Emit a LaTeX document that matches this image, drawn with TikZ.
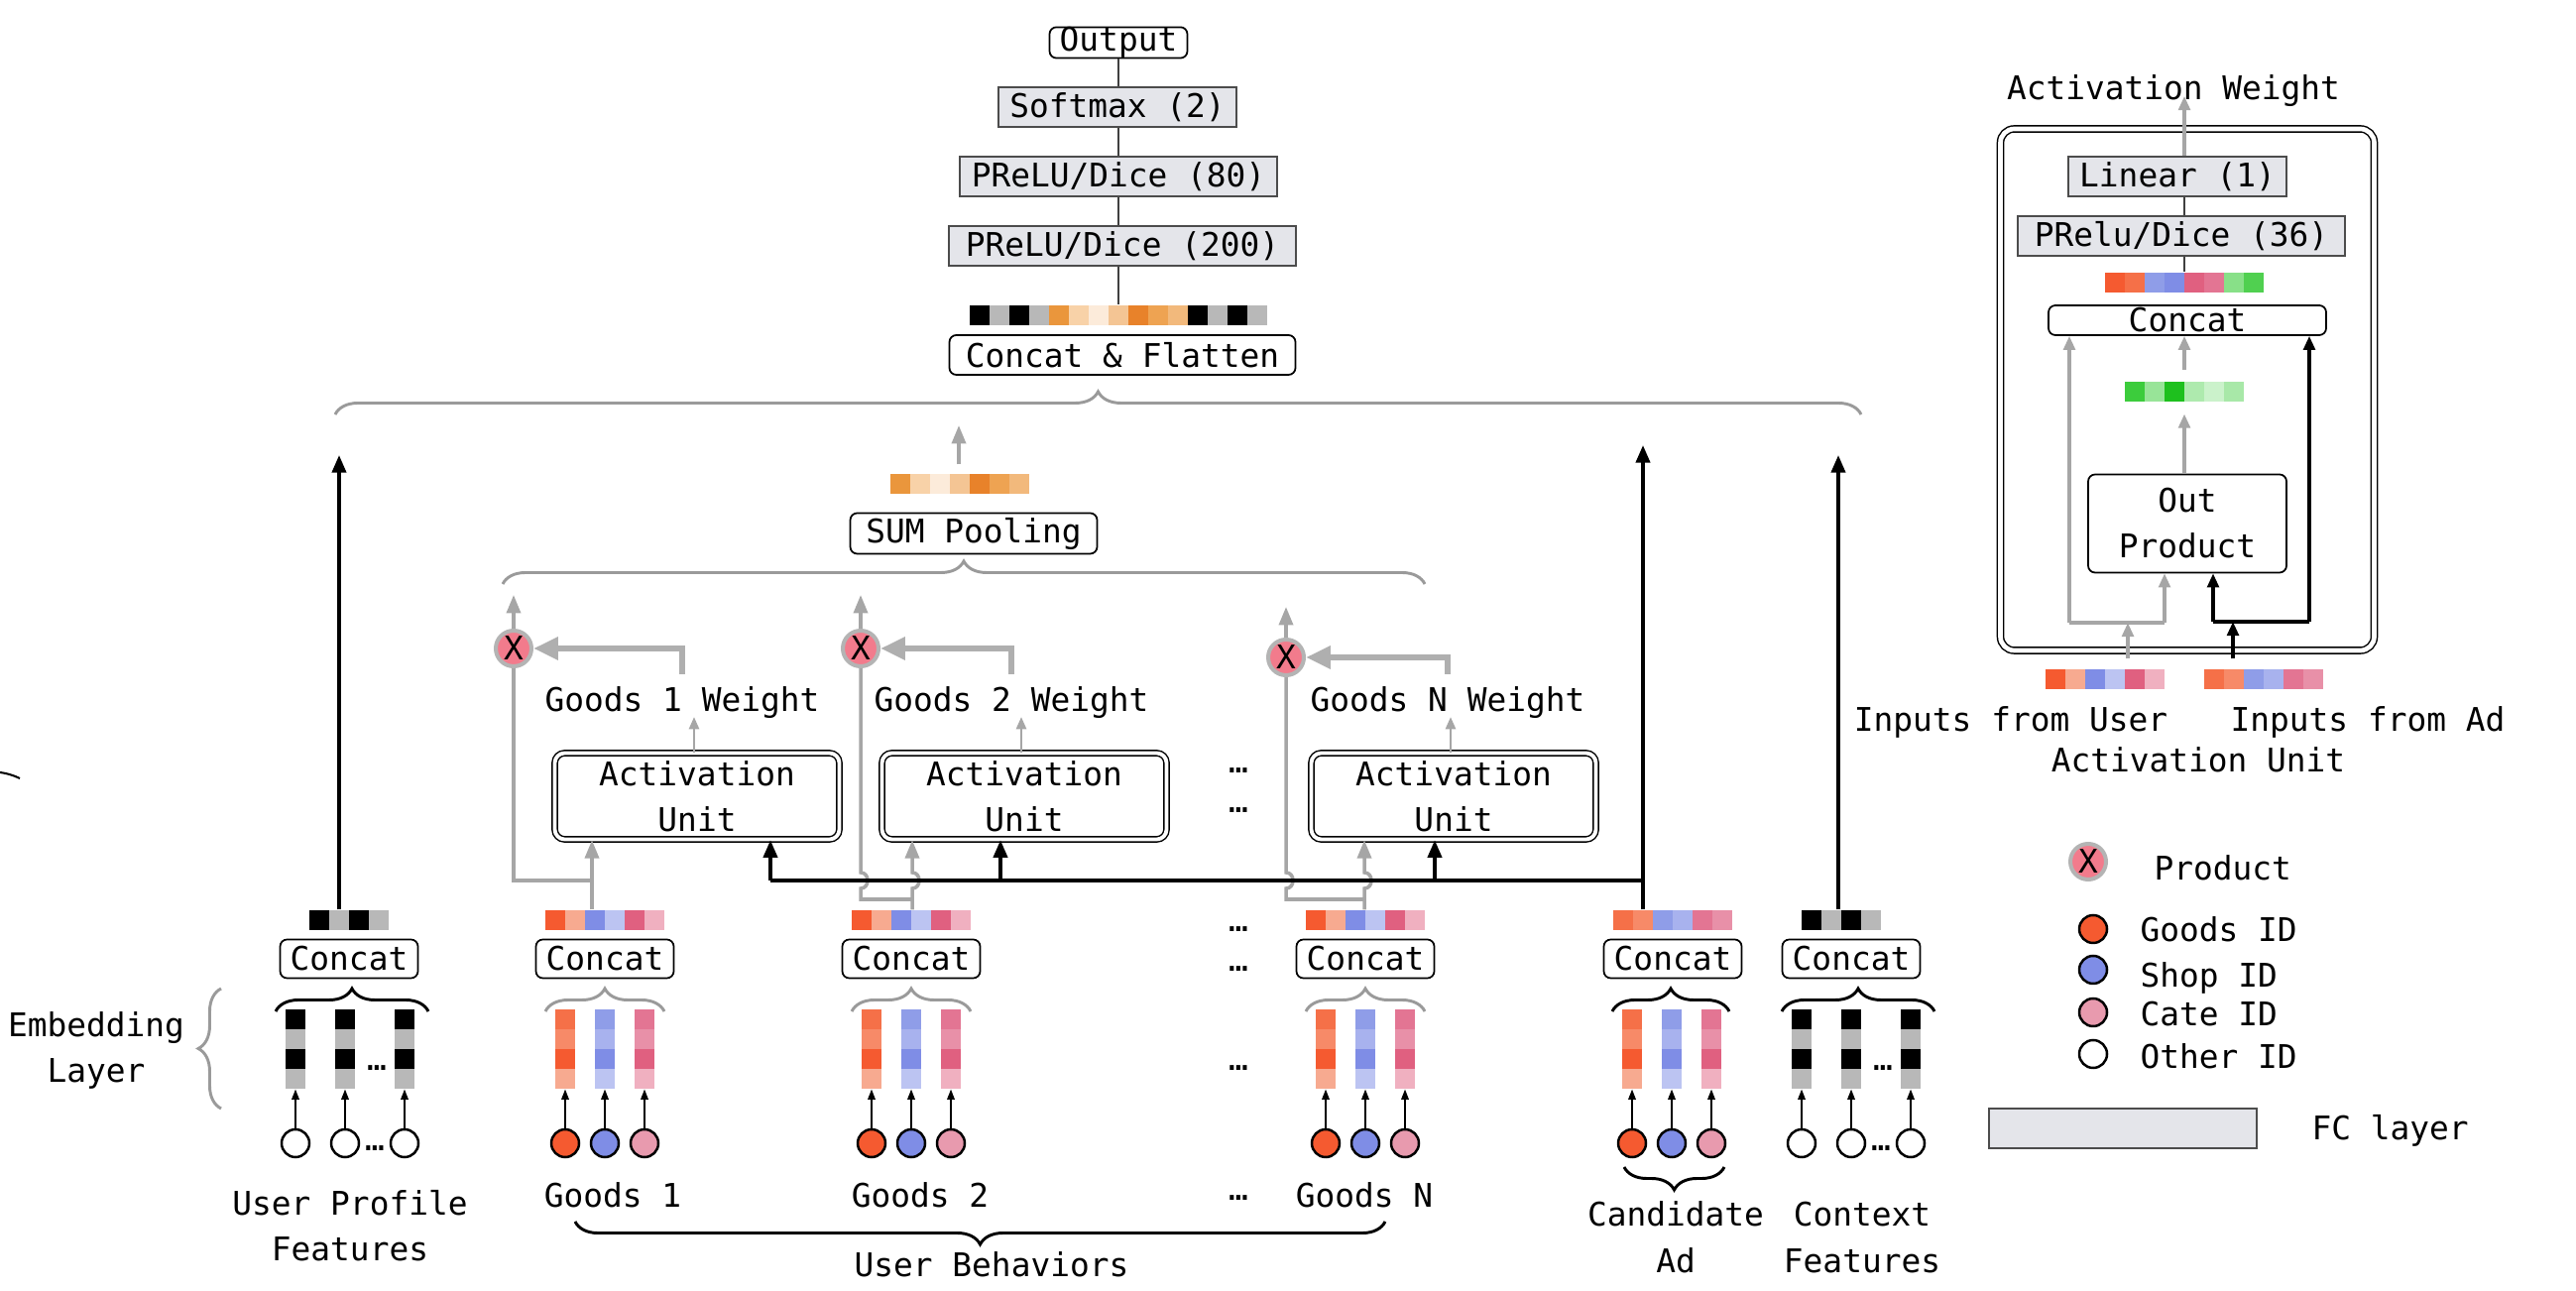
\documentclass[tikz,border=0pt]{standalone}
\usepackage{fontspec}
\setmainfont{DejaVu Sans Mono}
\usetikzlibrary{arrows.meta,decorations.pathreplacing,positioning}

\definecolor{fcgray}{HTML}{E4E5EA}
\definecolor{cellgray}{HTML}{B8B8B8}
\definecolor{arrgray}{HTML}{A6A6A6}
\definecolor{bracegray}{HTML}{9A9A9A}
\definecolor{prodpink}{HTML}{F27B8C}
\definecolor{prodrim}{HTML}{B4B4B4}
\definecolor{goodsA}{HTML}{F55A30}
\definecolor{goodsB}{HTML}{F7AA90}
\definecolor{goodsC}{HTML}{F57048}
\definecolor{goodsD}{HTML}{F78A68}
\definecolor{shopA}{HTML}{7F8DE6}
\definecolor{shopB}{HTML}{BCC4F2}
\definecolor{shopC}{HTML}{8F9DE8}
\definecolor{shopD}{HTML}{A8B2EE}
\definecolor{cateA}{HTML}{E06080}
\definecolor{cateB}{HTML}{F0B0C0}
\definecolor{cateC}{HTML}{E37593}
\definecolor{cateD}{HTML}{E890A8}
\definecolor{catec}{HTML}{E89AAE}
\definecolor{or1}{HTML}{EA963C}
\definecolor{or2}{HTML}{F8D2A8}
\definecolor{or3}{HTML}{FCEBDA}
\definecolor{or4}{HTML}{F4C594}
\definecolor{or5}{HTML}{E8822A}
\definecolor{or6}{HTML}{EEA352}
\definecolor{or7}{HTML}{F2B97C}
\definecolor{gr1}{HTML}{3CCC3C}
\definecolor{gr2}{HTML}{98E498}
\definecolor{gr3}{HTML}{1EC01E}
\definecolor{gr4}{HTML}{AEEAAE}
\definecolor{gr5}{HTML}{CBF2CB}
\definecolor{gr6}{HTML}{A8E8A8}
\definecolor{gr7}{HTML}{88E088}
\definecolor{gr8}{HTML}{50D050}

\newdimen\unitpx
\unitpx=0.012cm

% a row of 20px cells: name, centre x, centre y, cells, colours
\newcommand{\vecrow}[5]{%
  \node[inner sep=0pt,minimum width=#4*0.24cm,minimum height=0.24cm] (#1) at (#2,#3) {};
  \foreach \cellc [count=\cellk from 0] in {#5}
    \fill[\cellc] ({#2-#4*10+20*\cellk},{#3-10}) rectangle ++(20,20);
}
% a column of four cells: name, centre x, top y, colours
\newcommand{\veccol}[4]{%
  \node[inner sep=0pt,minimum width=0.24cm,minimum height=0.96cm] (#1) at (#2,{#3+40}) {};
  \foreach \cellc [count=\cellk from 0] in {#4}
    \fill[\cellc] ({#2-10},{#3+20*\cellk}) rectangle ++(20,20);
}

\begin{document}
\begin{tikzpicture}
[x=0.012cm,y=-0.012cm,font=\fontsize{11.2}{15.7}\selectfont,
 fclayer/.style={draw=black!70,fill=fcgray,line width=0.6pt,inner sep=0pt,minimum height=40\unitpx},
 rbox/.style={draw=black,fill=white,rounded corners=7\unitpx,line width=0.6pt,inner sep=0pt},
 aubox/.style={draw=black,double,double distance=1.3pt,line width=0.5pt,rounded corners=10\unitpx,inner sep=0pt,minimum width=287\unitpx,minimum height=87\unitpx,align=center},
 prod/.style={circle,fill=prodpink,draw=prodrim,line width=1.37pt,inner sep=0pt,minimum size=36\unitpx},
 idc/.style={circle,draw=black,line width=0.85pt,inner sep=0pt,minimum size=28\unitpx},
 lbl/.style={inner sep=0pt,anchor=base,align=center},
 conn/.style={line width=0.5pt,black!75},
 blkline/.style={line width=1.2pt},
 blk/.style={line width=1.2pt,-{Triangle[length=6pt,width=4.8pt]}},
 gry/.style={draw=arrgray,line width=1.2pt},
 gryarr/.style={gry,-{Triangle[length=6.3pt,width=4.8pt]}},
 gryfine/.style={draw=arrgray,line width=0.9pt,-{Triangle[length=4.2pt,width=3.4pt]}},
 wgt/.style={draw=arrgray!90,line width=2.2pt,-{Triangle[length=8.5pt,width=7.5pt]}},
 embarrow/.style={line width=0.45pt,-{Triangle[length=3.5pt,width=2.6pt]}},
 rgry/.style={gry,line width=1.1pt,-{Triangle[length=4.8pt,width=4pt]}},
 rblk/.style={line width=1.1pt,-{Triangle[length=4.8pt,width=4pt]}},
 brc/.style={decorate,decoration={brace,amplitude=0.276cm},line width=1pt}]
\useasboundingbox (0,0) rectangle (2598,1302);

% output stack
\node[rbox,minimum width=139\unitpx,minimum height=30\unitpx] (out) at (1128,43) {Output};
\node[fclayer,minimum width=240\unitpx] (smax) at (1127,108) {Softmax (2)};
\node[fclayer,minimum width=320\unitpx] (fc80) at (1128,178) {PReLU/Dice (80)};
\node[fclayer,minimum width=350\unitpx] (fc200) at (1132,248) {PReLU/Dice (200)};
\vecrow{fbar}{1128}{318}{15}{black,cellgray,black,cellgray,or1,or2,or3,or4,or5,or6,or7,black,cellgray,black,cellgray}
\node[rbox,minimum width=349\unitpx,minimum height=40\unitpx] (flat) at (1132,358) {Concat \& Flatten};
\foreach \a/\b in {out/smax,smax/fc80,fc80/fc200,fc200/fbar}
  \draw[conn] (out.south |- \a.south) -- (out.south |- \b.north);
\draw[brc,draw=bracegray] (338,418) -- (1877,418);

% sum pooling
\vecrow{obar}{968}{488}{7}{or1,or2,or3,or4,or5,or6,or7}
\node[rbox,minimum width=249\unitpx,minimum height=41\unitpx] (sump) at (982,538) {SUM Pooling};
\coordinate (stip) at (967,429);
\draw[gryarr] ([yshift=9\unitpx]obar.north -| stip) -- (stip);
\draw[brc,draw=bracegray] (507,589) -- (1437,589);

% user behaviours
\foreach \g/\gx/\lx/\lbl in {1/610/618/1, 2/919/928/2, n/1377/1376/N} {
  \vecrow{bar\g}{\gx}{928}{6}{goodsA,goodsB,shopA,shopB,cateA,cateB}
  \node[rbox,minimum width=139\unitpx,minimum height=39\unitpx] (cat\g) at (\gx,967) {Concat};
  \draw[brc,draw=bracegray] ({\gx-60},1020) -- ({\gx+60},1020);
  \foreach \k/\dx/\ca/\cb/\cc/\cd/\cf in {a/-40/goodsC/goodsD/goodsA/goodsB/goodsA,
      b/0/shopC/shopD/shopA/shopB/shopA, c/40/cateC/cateD/cateA/cateB/catec} {
    \veccol{col\g\k}{\gx+\dx}{1018}{\ca,\cb,\cc,\cd}
    \node[idc,fill=\cf] (id\g\k) at (\gx+\dx,1153) {};
    \draw[embarrow] (id\g\k) -- (col\g\k);
  }
  \node[lbl] (lg\g) at (\lx,1217) {Goods \lbl};
}
\foreach \dy [count=\n] in {777,817,937,977,1077,1208}
  \node[inner sep=0pt] (dots\n) at (1249,\dy) {…};
\draw[brc] (1397,1232) -- (580,1232);
\node[lbl] (lub) at (1000,1287) {User Behaviors};

% user profile and context features
\foreach \g/\cx/\bx/\kx in {u/348/352/352, c/1867/1857/1867} {
  \vecrow{bar\g}{\bx}{928}{4}{black,cellgray,black,cellgray}
  \node[rbox,minimum width=139\unitpx,minimum height=39\unitpx] (cat\g) at (\kx,967) {Concat};
  \draw[brc] ({\cx-70},1020) -- ({\cx+84},1020);
  \foreach \k/\dx in {a/-50,b/0,c/60} {
    \veccol{col\g\k}{\cx+\dx}{1018}{black,cellgray,black,cellgray}
    \node[idc,fill=white] (id\g\k) at (\cx+\dx,1153) {};
    \draw[embarrow] (id\g\k) -- (col\g\k);
  }
  \node[inner sep=0pt] (dc\g) at (\cx+32,1077) {…};
  \node[inner sep=0pt] (di\g) at (\cx+30,1158) {…};
}
\node[lbl] (lupf) at (353,1272) {User Profile\\Features};
\node[lbl] (lctx) at (1878,1283) {Context\\Features};
\node[lbl] (lemb) at (97,1092) {Embedding\\Layer};
\draw[brc,draw=bracegray] (223,1118) -- (223,997);
\draw[line width=0.7pt] (0,779) to[bend left=8] (20,785);

% candidate ad
\vecrow{bara}{1687}{928}{6}{goodsC,goodsD,shopC,shopD,cateC,cateD}
\node[rbox,minimum width=139\unitpx,minimum height=39\unitpx] (cata) at (1687,967) {Concat};
\draw[brc] (1626,1020) -- (1744,1020);
\foreach \k/\dx/\ca/\cb/\cc/\cd/\cf in {a/-40/goodsC/goodsD/goodsA/goodsB/goodsA,
    b/0/shopC/shopD/shopA/shopB/shopA, c/40/cateC/cateD/cateA/cateB/catec} {
  \veccol{cola\k}{1686+\dx}{1018}{\ca,\cb,\cc,\cd}
  \node[idc,fill=\cf] (ida\k) at (1686+\dx,1153) {};
  \draw[embarrow] (ida\k) -- (cola\k);
}
\draw[brc] (1739,1177) -- (1638,1177);
\node[lbl] (lcad) at (1690,1283) {Candidate\\Ad};

% activation units
\foreach \i/\bx/\tx/\xx/\xy/\xt/\ax/\lbl in {1/703/688/518/654/600/777/1,
    2/1033/1020/868/654/600/1009/2, n/1466/1460/1297/663/612/1447/N} {
  \node[aubox] (au\i) at (\bx,803) {Activation\\Unit};
  \node[prod] (x\i) at (\xx,\xy) {X};
  \node[lbl] (wt\i) at (\tx,718) {Goods \lbl\ Weight};
  \coordinate (wtip\i) at ({\bx-3},723);
  \draw[gryfine] (au\i.north -| wtip\i) -- (wtip\i);
  \coordinate (wbot\i) at (\tx,680);
  \draw[wgt] (wbot\i) |- (x\i.east);
  \coordinate (xtip\i) at (\xx,\xt);
  \draw[gryarr] (x\i.north) -- (xtip\i);
  \coordinate (ak\i) at (\ax,888);
  \draw[blk] (ak\i) -- (ak\i |- au\i.south);
}
\coordinate (j1) at (597,888);
\draw[gry] (bar1.north -| j1) -- (j1) -| (x1.south);
\draw[gryarr] (j1) -- (j1 |- au1.south);
\foreach \i/\jx in {2/920, n/1376} {
  \coordinate (j\i) at (\jx,907);
  \draw[gry] (bar\i.north -| j\i) -- (j\i) -- (j\i -| x\i) -- ++(0,-11)
    to[out=0,in=0,looseness=1.5] ++(0,-16) -- (x\i.south);
  \draw[gryarr] (j\i) -- ++(0,-11) to[out=0,in=0,looseness=1.5] ++(0,-16) -- (j\i |- au\i.south);
}

% black inputs from ad, to the top
\coordinate (atip) at (1657,449);
\coordinate (utip) at (342,459);
\coordinate (ctip) at (1854,459);
\draw[blkline] (ak1) -- (ak1 -| atip);
\draw[blk] (bara.north -| atip) -- (atip);
\draw[blk] (baru.north -| utip) -- (utip);
\draw[blk] (barc.north -| ctip) -- (ctip);

% activation unit panel
\node[draw,double,double distance=1.6pt,line width=0.5pt,rounded corners=14\unitpx,minimum width=377\unitpx,minimum height=526\unitpx] (panel) at (2206,393) {};
\node[lbl] (awt) at (2192,101) {Activation Weight};
\node[fclayer,minimum width=220\unitpx] (lin) at (2196,178) {Linear (1)};
\node[fclayer,minimum width=330\unitpx] (prl) at (2200,238) {PRelu/Dice (36)};
\vecrow{rbar}{2203}{285}{8}{goodsA,goodsC,shopC,shopA,cateA,cateC,gr7,gr8}
\node[rbox,minimum width=280\unitpx,minimum height=30\unitpx] (rcat) at (2206,323) {Concat};
\vecrow{gbar}{2203}{395}{6}{gr1,gr2,gr3,gr4,gr5,gr6}
\node[rbox,minimum width=200\unitpx,minimum height=99\unitpx,align=center] (opr) at (2206,528) {Out\\Product};
\vecrow{ubin}{2123}{685}{6}{goodsA,goodsB,shopA,shopB,cateA,cateB}
\vecrow{adin}{2283}{685}{6}{goodsC,goodsD,shopC,shopD,cateC,cateD}
\coordinate (awtip) at (2203,97);
\draw[rgry] (lin.north -| awtip) -- (awtip);
\draw[conn] (lin.south -| rbar) -- (prl.north -| rbar);
\draw[conn] (prl.south -| rbar) -- (rbar.north);
\draw[rgry] (opr.north -| gbar) -- ([yshift=-12\unitpx]gbar.south);
\draw[rgry] ([yshift=11\unitpx]gbar.north) -- (rcat.south -| gbar);
\coordinate (ru) at (2087,628);
\coordinate (ro) at (2183,628);
\coordinate (rui) at (2146,628);
\draw[gry,line width=1.1pt] (ru) -- (ro);
\draw[rgry] (ru) -- (ru |- rcat.south);
\draw[rgry] (ro) -- (ro |- opr.south);
\draw[rgry] ([yshift=10\unitpx]ubin.north -| rui) -- (rui);
\coordinate (ra) at (2232,627);
\coordinate (rb) at (2329,627);
\coordinate (rai) at (2252,627);
\draw[line width=1.1pt] (ra) -- (rb);
\draw[rblk] (ra) -- (ra |- opr.south);
\draw[rblk] (rb) -- (rb |- rcat.south);
\draw[rblk] ([yshift=10\unitpx]adin.north -| rai) -- (rai);
\node[lbl] (inu) at (2028,738) {Inputs from User};
\node[lbl] (ina) at (2388,738) {Inputs from Ad};
\node[lbl] (inau) at (2217,779) {Activation Unit};

% legend
\node[prod] (lgx) at (2106,869) {X};
\node[lbl,anchor=base west] (lgxt) at (2172,888) {Product};
\foreach \k/\yy/\fc/\txt/\ty in {g/937/goodsA/Goods ID/950, s/978/shopA/Shop ID/996,
    c/1021/catec/Cate ID/1035, o/1063/white/Other ID/1078} {
  \node[idc,fill=\fc] (lg\k) at (2111,\yy) {};
  \node[lbl,anchor=base west] (lg\k t) at (2158,\ty) {\txt};
}
\node[fclayer,minimum width=270\unitpx] (lgfc) at (2141,1138) {};
\node[lbl,anchor=base west] (lgfct) at (2331,1150) {FC layer};
\end{tikzpicture}
\end{document}
